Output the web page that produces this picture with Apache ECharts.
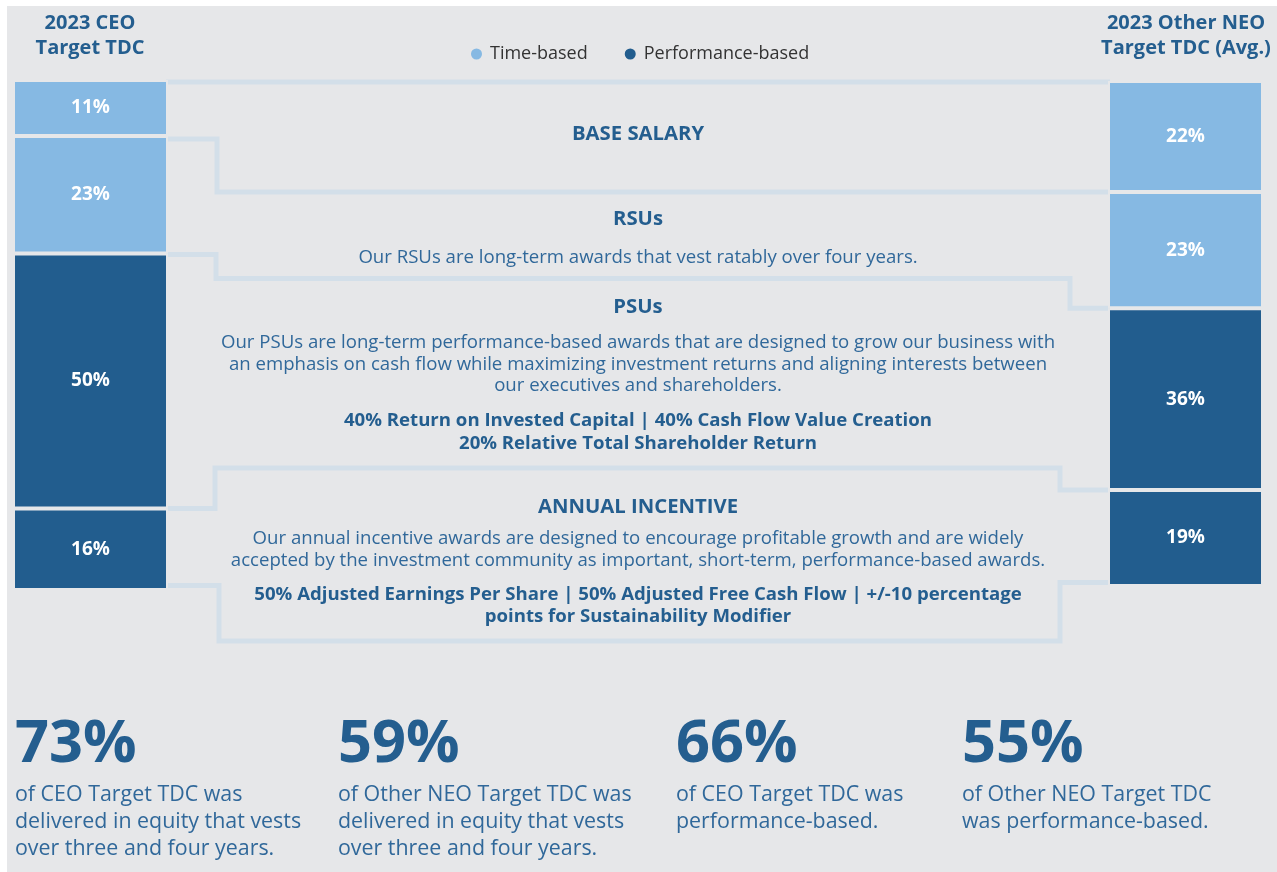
<!DOCTYPE html>
<html><head><meta charset="utf-8">
<script src="https://cdn.jsdelivr.net/npm/echarts@6/dist/echarts.min.js"></script>
<style>html,body{margin:0;padding:0;background:#fff;}#c{width:1277px;height:872px;}</style>
</head><body><div id="c"></div>
<script>
// ---- data ----
const segments = ['Base Salary', 'RSUs', 'PSUs', 'Annual Incentive'];
const segmentTypes = ['Time-based', 'Time-based', 'Performance-based', 'Performance-based'];
const ceoValues = [11, 23, 50, 16];
const neoValues = [22, 23, 36, 19];
const barTitles = ['2023 CEO\nTarget TDC', '2023 Other NEO\nTarget TDC (Avg.)'];
const legendItems = ['Time-based', 'Performance-based'];
const zoneTitles = ['BASE SALARY', 'RSUs', 'PSUs', 'ANNUAL INCENTIVE'];
const zoneTexts = [
  '',
  'Our RSUs are long-term awards that vest ratably over four years.',
  'Our PSUs are long-term performance-based awards that are designed to grow our business with\nan emphasis on cash flow while maximizing investment returns and aligning interests between\nour executives and shareholders.',
  'Our annual incentive awards are designed to encourage profitable growth and are widely\naccepted by the investment community as important, short-term, performance-based awards.'
];
const zoneMetrics = [
  '', '',
  '40% Return on Invested Capital | 40% Cash Flow Value Creation\n20% Relative Total Shareholder Return',
  '50% Adjusted Earnings Per Share | 50% Adjusted Free Cash Flow | +/-10 percentage\npoints for Sustainability Modifier'
];
const statValues = ['73%', '59%', '66%', '55%'];
const statTexts = [
  'of CEO Target TDC was\ndelivered in equity that vests\nover three and four years.',
  'of Other NEO Target TDC was\ndelivered in equity that vests\nover three and four years.',
  'of CEO Target TDC was\nperformance-based.',
  'of Other NEO Target TDC\nwas performance-based.'
];

// ---- style ----
const BG = '#e6e7e9';
const typeColors = { 'Time-based': '#86b9e3', 'Performance-based': '#225d8e' };
const DARK = '#245e8f';
const BODY = '#30689a';
const LINE = '#d3dfe9';
const FONT = '"Open Sans", "Noto Sans", sans-serif';

const chart = echarts.init(document.getElementById('c'), null, { renderer: 'canvas' });

function barSeries(values, stack, idx) {
  return values.map((v, i) => ({
    type: 'bar',
    name: segmentTypes[i],
    stack: stack,
    xAxisIndex: idx,
    yAxisIndex: idx,
    barWidth: '100%',
    data: [v],
    itemStyle: { color: typeColors[segmentTypes[i]], borderColor: BG, borderWidth: 2 },
    label: {
      show: true, position: 'inside', formatter: '{c}%',
      color: '#ffffff', fontFamily: FONT, fontWeight: 'bold', fontSize: 19
    },
    emphasis: { disabled: true },
    silent: true
  }));
}

const option = {
  backgroundColor: '#ffffff',
  animation: false,
  legend: {
    data: legendItems,
    left: 464, top: 40,
    icon: 'circle',
    itemWidth: 13, itemHeight: 13, itemGap: 35,
    textStyle: { fontFamily: FONT, fontSize: 18, color: '#333333', padding: [0, 0, 0, 2] },
    selectedMode: false
  },
  grid: [
    { left: 13, top: 80, width: 155, height: 510 },
    { left: 1108, top: 81, width: 155, height: 505 }
  ],
  xAxis: [
    { type: 'category', gridIndex: 0, data: ['CEO'], show: false },
    { type: 'category', gridIndex: 1, data: ['NEO'], show: false }
  ],
  yAxis: [
    { type: 'value', gridIndex: 0, min: 0, max: 100, inverse: true, show: false },
    { type: 'value', gridIndex: 1, min: 0, max: 100, inverse: true, show: false }
  ],
  series: [...barSeries(ceoValues, 'ceo', 0), ...barSeries(neoValues, 'neo', 1)]
};
chart.setOption(option);

// ---- decorations: panel, connectors, texts ----
const cum = arr => arr.reduce((a, v) => { a.push(a[a.length - 1] + v); return a; }, [0]);
const ceoCum = cum(ceoValues), neoCum = cum(neoValues);
const yL = k => chart.convertToPixel({ gridIndex: 0 }, [0, ceoCum[k]])[1];
const yR = k => chart.convertToPixel({ gridIndex: 1 }, [0, neoCum[k]])[1];
const xL = 166, xR = 1110;

const connectors = [
  [[xL, 82], [xR, 82]],
  [[xL, yL(1) + 3], [217, yL(1) + 3], [217, yR(1)], [xR, yR(1)]],
  [[xL, yL(2) + 1], [216, yL(2) + 1], [216, 278.5], [1070, 278.5], [1070, yR(2)], [xR, yR(2)]],
  [[xL, yL(3)], [215, yL(3)], [215, 468], [1060, 468], [1060, yR(3)], [xR, yR(3)]],
  [[xL, yL(4) - 4.5], [219, yL(4) - 4.5], [219, 641], [1060, 641], [1060, yR(4) - 3.5], [xR, yR(4) - 3.5]]
];

const g = [];
g.push({ type: 'rect', z: -10, shape: { x: 7, y: 6, width: 1270, height: 866 }, style: { fill: BG }, silent: true });
connectors.forEach(pts => g.push({
  type: 'polyline', z: -5, shape: { points: pts },
  style: { stroke: LINE, lineWidth: 5, fill: null, lineJoin: 'miter', lineCap: 'butt' }, silent: true
}));

function txt(text, x, y, size, weight, color, align, lh) {
  g.push({
    type: 'text', x: x, y: y, z: 10, silent: true,
    style: {
      text: text, fill: color, fontFamily: FONT, fontSize: size, fontWeight: weight,
      align: align || 'center', verticalAlign: 'middle', lineHeight: lh || Math.round(size * 1.25)
    }
  });
}

// bar titles
txt(barTitles[0], 90, 36, 20, 'bold', DARK, 'center', 25);
txt(barTitles[1], 1186, 36, 20, 'bold', DARK, 'center', 25);

// zones
const T = 20.3, B = 18.6;
txt(zoneTitles[0], 638, 134, T, 'bold', DARK);
txt(zoneTitles[1], 638, 219, T, 'bold', DARK);
txt(zoneTexts[1], 638, 258, B, 'normal', BODY);
txt(zoneTitles[2], 638, 307, T, 'bold', DARK);
txt(zoneTexts[2], 638, 364.5, B, 'normal', BODY, 'center', 21.5);
txt(zoneMetrics[2], 638, 432.5, B, 'bold', DARK, 'center', 23);
txt(zoneTitles[3], 638, 507, T, 'bold', DARK);
txt(zoneTexts[3], 638, 549.5, B, 'normal', BODY, 'center', 21.5);
txt(zoneMetrics[3], 638, 606, B, 'bold', DARK, 'center', 22);

// stats
const statX = [15, 338, 676, 962];
statValues.forEach((v, i) => {
  txt(v, statX[i], 745, 59.5, 'bold', DARK, 'left', 64);
  const n = statTexts[i].split('\n').length;
  txt(statTexts[i], statX[i], 795 + (n - 1) * 13.5, 21.4, 'normal', BODY, 'left', 27);
});

chart.setOption({ graphic: { elements: g } });
</script></body></html>
